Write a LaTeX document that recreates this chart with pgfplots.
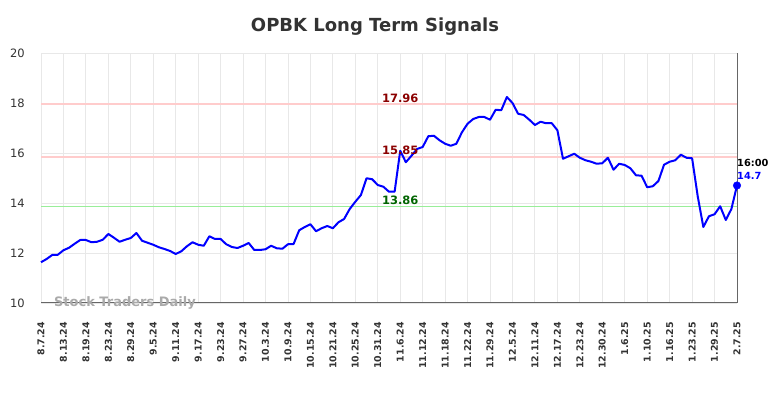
\documentclass[border=0pt]{standalone}
\usepackage{fontspec}
\setmainfont{DejaVu Sans}
\usepackage{pgfplots}
\usepackage{pgfplotstable}
\pgfplotsset{compat=1.18}
\definecolor{gridc}{HTML}{E8E8E8}
\definecolor{textc}{HTML}{333333}
\definecolor{axc}{HTML}{666666}
\definecolor{redline}{HTML}{FFCCCC}
\definecolor{greenline}{HTML}{99EE99}
\definecolor{darkred}{HTML}{8B0000}
\definecolor{darkgreen}{HTML}{006400}
\definecolor{wm}{HTML}{AAAAAA}
\pgfplotstableread{
i v
0 11.63
1 11.76
2 11.92
3 11.93
4 12.11
5 12.21
6 12.37
7 12.52
8 12.52
9 12.43
10 12.45
11 12.53
12 12.76
13 12.61
14 12.45
15 12.53
16 12.60
17 12.80
18 12.49
19 12.41
20 12.33
21 12.23
22 12.16
23 12.08
24 11.96
25 12.07
26 12.27
27 12.43
28 12.33
29 12.29
30 12.67
31 12.56
32 12.56
33 12.35
34 12.24
35 12.20
36 12.29
37 12.40
38 12.12
39 12.12
40 12.15
41 12.29
42 12.19
43 12.17
44 12.35
45 12.36
46 12.91
47 13.04
48 13.15
49 12.87
50 12.99
51 13.08
52 12.99
53 13.23
54 13.36
55 13.76
56 14.05
57 14.32
58 14.99
59 14.95
60 14.72
61 14.65
62 14.45
63 14.45
64 16.09
65 15.63
66 15.89
67 16.16
68 16.24
69 16.67
70 16.69
71 16.51
72 16.37
73 16.29
74 16.37
75 16.83
76 17.17
77 17.36
78 17.44
79 17.44
80 17.33
81 17.73
82 17.71
83 18.24
84 18.00
85 17.57
86 17.52
87 17.33
88 17.12
89 17.25
90 17.19
91 17.19
92 16.91
93 15.77
94 15.87
95 15.97
96 15.81
97 15.71
98 15.65
99 15.57
100 15.59
101 15.81
102 15.33
103 15.57
104 15.52
105 15.39
106 15.11
107 15.09
108 14.63
109 14.67
110 14.88
111 15.53
112 15.65
113 15.71
114 15.93
115 15.81
116 15.79
117 14.27
118 13.04
119 13.47
120 13.55
121 13.87
122 13.32
123 13.76
124 14.70
}\prices
\begin{document}
\begin{tikzpicture}
\begin{axis}[
  scale only axis, width=696pt, height=250pt,
  xmin=0, xmax=124, ymin=10, ymax=20,
  xtick={0,4,...,124},
  xticklabels={8.7.24,8.13.24,8.19.24,8.23.24,8.29.24,9.5.24,9.11.24,9.17.24,9.23.24,9.27.24,10.3.24,10.9.24,10.15.24,10.21.24,10.25.24,10.31.24,11.6.24,11.12.24,11.18.24,11.22.24,11.29.24,12.5.24,12.11.24,12.17.24,12.23.24,12.30.24,1.6.25,1.10.25,1.16.25,1.23.25,1.29.25,2.7.25},
  ytick={10,12,14,16,18,20},
  yticklabels={10,12,14,16,18,20},
  grid=major, major grid style={gridc, line width=0.9pt},
  axis line style={draw=none}, tick style={draw=none},
  xticklabel style={rotate=90, anchor=east, inner sep=0pt, font=\fontsize{9.4}{10}\selectfont\bfseries, text=textc},
  xticklabel shift=19pt,
  yticklabel style={anchor=east, inner sep=0pt, font=\fontsize{11.5}{12}\selectfont, text=textc},
  yticklabel shift=16pt,
  clip=false,
]
\path (rel axis cs:0,0) ++(-41pt,-95pt) rectangle ++(784pt,398pt);
\draw[axc, line width=1pt] (rel axis cs:0,0) -- (rel axis cs:1,0) -- (rel axis cs:1,1);
\addplot[redline, line width=2pt] coordinates {(0,17.96) (124,17.96)};
\addplot[redline, line width=2pt] coordinates {(0,15.85) (124,15.85)};
\addplot[greenline, line width=1.6pt] coordinates {(0,13.86) (124,13.86)};
\addplot[blue, line width=2pt, line join=round] table[x=i, y=v] {\prices};
\addplot[blue, mark=*, mark size=3.8pt, only marks] coordinates {(124,14.70)};
\node[anchor=south, inner sep=1.5pt, text=darkred, font=\fontsize{11.5}{12}\selectfont\bfseries] at (axis cs:64,17.96) {17.96};
\node[anchor=south, inner sep=1.5pt, text=darkred, font=\fontsize{11.5}{12}\selectfont\bfseries] at (axis cs:64,15.85) {15.85};
\node[anchor=south, inner sep=1.5pt, text=darkgreen, font=\fontsize{11.5}{12}\selectfont\bfseries] at (axis cs:64,13.86) {13.86};
\node[anchor=west, inner sep=0pt, text=black, font=\fontsize{9.8}{10}\selectfont\bfseries] at ([yshift=23pt]axis cs:124,14.70) {16:00};
\node[anchor=west, inner sep=0pt, text=blue, font=\fontsize{9.8}{10}\selectfont\bfseries] at ([yshift=10pt]axis cs:124,14.70) {14.7};
\node[anchor=west, inner sep=0pt, text=wm, font=\fontsize{13}{13}\selectfont\bfseries] at (axis cs:2.3,10) {Stock Traders Daily};
\node[text=textc, font=\fontsize{18}{18}\selectfont\bfseries] at ([shift={(334pt,26pt)}]rel axis cs:0,1) {OPBK Long Term Signals};
\end{axis}
\end{tikzpicture}
\end{document}
